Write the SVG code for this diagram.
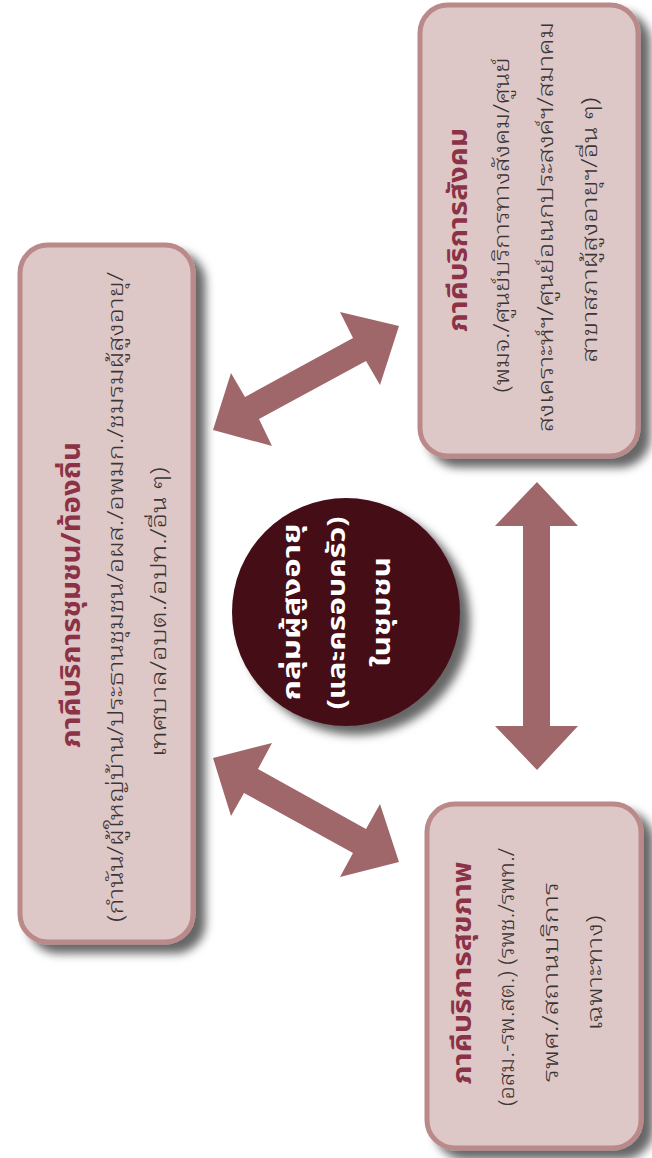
<svg xmlns="http://www.w3.org/2000/svg" width="652" height="1158" viewBox="0 0 652 1158">
<defs>
<filter id="shadow" x="-20%" y="-20%" width="150%" height="150%">
<feDropShadow dx="10" dy="9" stdDeviation="5" flood-color="#000" flood-opacity="0.6"/>
</filter>
<style>
.box{fill:#dec8c7;stroke:#b98a89;stroke-width:5;filter:url(#shadow)}
.title{font-family:"Noto Sans Thai","Noto Sans","DejaVu Sans",sans-serif;font-weight:bold;font-size:26px;fill:#8b3247;text-anchor:middle}
.sub{font-family:"Noto Sans Thai Looped","Noto Serif Thai","Noto Sans Thai","Noto Sans",sans-serif;font-weight:300;font-size:21px;fill:#3a3535;text-anchor:middle}
.ctext{font-family:"Noto Sans Thai","Noto Sans","DejaVu Sans",sans-serif;font-weight:bold;font-size:25px;fill:#ffffff;text-anchor:middle}
.arrow{fill:#a0676a}
</style>
</defs>
<g id="connectors">
<polygon class="arrow" points="213,430 231,373 245,397 353,338 340,312 399,326 380,385 366,361 259,419 272,446"/>
<polygon class="arrow" points="213,758 272,743 258,769 366,829 380,804 399,862 340,877 353,853 244,793 231,816"/>
<polygon class="arrow" points="537,482 578,526 550,526 550,726 578,726 537,770 495,726 523,726 523,526 495,526"/>
</g>
<g id="node-community">
<rect class="box" x="20" y="245" width="173" height="697" rx="28"/>
<text class="title" transform="translate(80,595) rotate(-90)" textLength="306" lengthAdjust="spacingAndGlyphs">ภาคีบริการชุมชน/ท้องถิ่น</text>
<text class="sub" transform="translate(122.5,597) rotate(-90)" textLength="650" lengthAdjust="spacingAndGlyphs">(กำนัน/ผู้ใหญ่บ้าน/ประธานชุมชน/อผส./อพมก./ชมรมผู้สูงอายุ/</text>
<text class="sub" transform="translate(165.5,612) rotate(-90)" textLength="290" lengthAdjust="spacingAndGlyphs">เทศบาล/อบต./อปท./อื่น ๆ)</text>
</g>
<g id="node-social">
<rect class="box" x="420" y="5" width="218" height="451" rx="28"/>
<text class="title" transform="translate(467,230) rotate(-90)" textLength="204" lengthAdjust="spacingAndGlyphs">ภาคีบริการสังคม</text>
<text class="sub" transform="translate(508.5,225) rotate(-90)" textLength="335" lengthAdjust="spacingAndGlyphs">(พมจ./ศูนย์บริการทางสังคม/ศูนย์</text>
<text class="sub" transform="translate(552.5,227) rotate(-90)" textLength="410" lengthAdjust="spacingAndGlyphs">สงเคราะห์ฯ/ศูนย์อเนกประสงค์ฯ/สมาคม</text>
<text class="sub" transform="translate(596.5,230) rotate(-90)" textLength="265" lengthAdjust="spacingAndGlyphs">สาขาสภาผู้สูงอายุฯ/อื่น ๆ)</text>
</g>
<g id="node-health">
<rect class="box" x="427" y="804" width="214" height="344" rx="28"/>
<text class="title" transform="translate(471,973) rotate(-90)" textLength="223" lengthAdjust="spacingAndGlyphs">ภาคีบริการสุขภาพ</text>
<text class="sub" transform="translate(513.5,977) rotate(-90)" textLength="258" lengthAdjust="spacingAndGlyphs">(อสม.-รพ.สต.) (รพช./รพท./</text>
<text class="sub" transform="translate(557.5,982) rotate(-90)" textLength="200" lengthAdjust="spacingAndGlyphs">รพศ./สถานบริการ</text>
<text class="sub" transform="translate(601.5,973) rotate(-90)" textLength="115" lengthAdjust="spacingAndGlyphs">เฉพาะทาง)</text>
</g>
<g id="node-elderly">
<circle cx="346" cy="612" r="114" fill="#440a18" filter="url(#shadow)"/>
<text class="ctext" transform="translate(299.5,612) rotate(-90)" textLength="177" lengthAdjust="spacingAndGlyphs">กลุ่มผู้สูงอายุ</text>
<text class="ctext" transform="translate(344.5,613) rotate(-90)" textLength="193" lengthAdjust="spacingAndGlyphs">(และครอบครัว)</text>
<text class="ctext" transform="translate(389.5,612) rotate(-90)" textLength="110" lengthAdjust="spacingAndGlyphs">ในชุมชน</text>
</g>
</svg>
